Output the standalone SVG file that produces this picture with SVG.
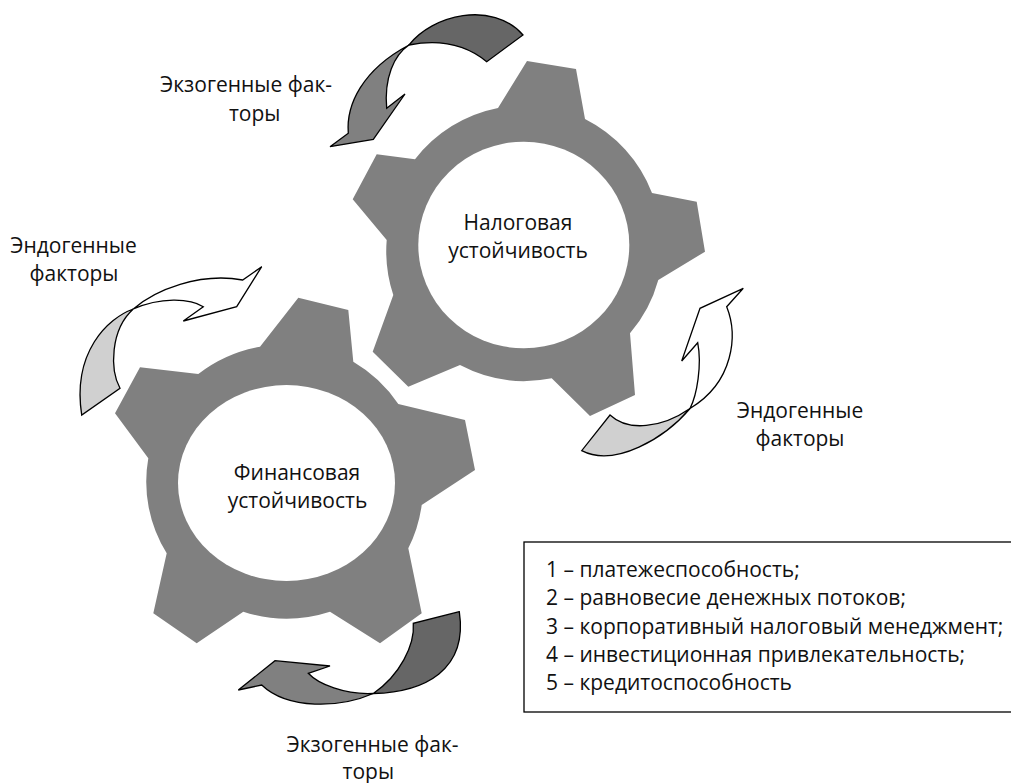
<svg xmlns="http://www.w3.org/2000/svg" width="1011" height="783" viewBox="0 0 1011 783">
<style>
.gear{fill:#808080;stroke:none}
.hole{fill:#ffffff;stroke:none}
.t{font-family:"Open Sans","Noto Sans","Liberation Sans",sans-serif;font-size:21px;fill:#111}
.m{text-anchor:middle}
.ar{stroke:#000;stroke-width:1.3;stroke-linejoin:miter}
.dk{fill:#666666}
.md{fill:#808080}
.lt{fill:#d0d0d0}
.wh{fill:#ffffff}
</style>
<rect width="1011" height="783" fill="#ffffff"/>
<g id="gear-tax">
<path class="gear" d="M498,108 L527,61 L576,69 L585,119 A138.5,138.5 0 0 1 652,193 L696.7,201.7 L705,251.7 L658.3,280 A138.5,138.5 0 0 1 630,333.3 L635,395 L590,416 L551.7,378.3 A138.5,138.5 0 0 1 460,365 L408.3,386.7 L372.7,351.7 L393.3,295 A138.5,138.5 0 0 1 386.7,240 L352.7,199.3 L376.7,154.3 L415,159.3 A138.5,138.5 0 0 1 498,108 Z"/>
<ellipse class="hole" cx="523.8" cy="245" rx="105.5" ry="103.3"/>
<text class="t m" x="518" y="230">Налоговая</text>
<text class="t m" x="518" y="258.3">устойчивость</text>
</g>
<g id="gear-fin">
<path class="gear" d="M260,346.7 L298.3,297.7 L348.3,310 L353.3,361.7 A139,137 0 0 1 398.3,404 L465,420 L475,470 L421.7,505 A139,137 0 0 1 408.3,548.3 L421.7,613.3 L380,643.3 L330,611.7 A139,137 0 0 1 243.3,611.7 L196.7,643.3 L153.3,613.3 L166.7,553.3 A139,137 0 0 1 148.3,458.3 L115,413.3 L140,367.3 L198.3,374 A139,137 0 0 1 260,346.7 Z"/>
<ellipse class="hole" cx="286.5" cy="483" rx="108.5" ry="98"/>
<text class="t m" x="297" y="480">Финансовая</text>
<text class="t m" x="297.5" y="508.3">устойчивость</text>
</g>
<g id="connectors">
<g id="arrow-exo-top">
<path class="ar dk" d="M409,45 C432,15 492,0 523,35 L486.7,61.7 C470,48 445,38 409,45 Z"/>
<path class="ar md" d="M409,45 C394,55 384,78 386.7,108.3 L405,94 L373.3,139.3 L330,146.7 L348.3,133.3 C346,105 362,70 409,45 Z"/>
</g>
<g id="arrow-endo-left">
<path class="ar lt" d="M133.3,309 C108,318 72,352 81.7,415 L120,388.3 C110,370 110,330 133.3,309 Z"/>
<path class="ar wh" d="M133.3,309 C155,290 200,272 242.7,280 L261.7,266.7 L236.7,306.7 L183.3,321 L203.3,306.7 C190,298 160,297 133.3,309 Z"/>
</g>
<g id="arrow-endo-right">
<path class="ar lt" d="M690,408.5 C665,438 615,468 581.7,450.7 L610,415 C628,432 662,428 690,408.5 Z"/>
<path class="ar wh" d="M690,408.5 C697,395 702,365 697.7,342.7 L681.7,361 L700,308.3 L743.3,288.3 L726.7,306.7 C738,335 734,382 690,408.5 Z"/>
</g>
<g id="arrow-exo-bottom">
<path class="ar dk" d="M459.3,611.7 L413.3,623.3 C415,645 400,675 373.3,693.5 C425,692 468,670 459.3,611.7 Z"/>
<path class="ar md" d="M373.3,693.5 C340,708 288,710 261.7,685 L238.3,690 L275,660.7 L330,666 L308.3,673.3 C318,684 345,695 373.3,693.5 Z"/>
</g>
</g>
<g id="label-exo-top">
<text class="t m" x="246" y="91.7">Экзогенные фак-</text>
<text class="t m" x="254.7" y="120.5">торы</text>
</g>
<g id="label-endo-left">
<text class="t m" x="73.5" y="253.3">Эндогенные</text>
<text class="t m" x="74" y="280.5">факторы</text>
</g>
<g id="label-endo-right">
<text class="t m" x="800" y="418">Эндогенные</text>
<text class="t m" x="800" y="446">факторы</text>
</g>
<g id="label-exo-bottom">
<text class="t m" x="372.5" y="752">Экзогенные фак-</text>
<text class="t m" x="368.3" y="778.5">торы</text>
</g>
<g id="legend">
<rect x="524" y="542" width="500" height="170" fill="#ffffff" stroke="#000" stroke-width="1.3"/>
<text class="t" x="546" y="577">1 – платежеспособность;</text>
<text class="t" x="546" y="605.3">2 – равновесие денежных потоков;</text>
<text class="t" x="546" y="633.6">3 – корпоративный налоговый менеджмент;</text>
<text class="t" x="546" y="661.9">4 – инвестиционная привлекательность;</text>
<text class="t" x="546" y="690.2">5 – кредитоспособность</text>
</g>
</svg>
